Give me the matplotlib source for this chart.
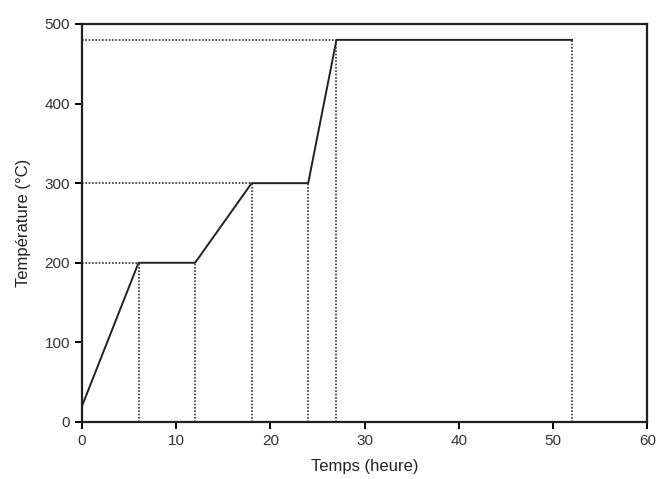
import matplotlib.pyplot as plt

# temperature programme
t = [0, 6, 12, 18, 24, 27, 52]
temp = [20, 200, 200, 300, 300, 480, 480]

# dotted guide lines
vlines_x = [6, 12, 18, 24, 27, 52]
vlines_top = [200, 200, 300, 300, 480, 480]
hlines_y = [200, 300, 480]
hlines_end = [6, 18, 27]

plt.rcParams['font.family'] = ['Liberation Sans', 'DejaVu Sans']

fig = plt.figure(figsize=(6.56, 4.79), dpi=100)
ax = fig.add_axes([0.125, 0.119, 0.862, 0.831])

ax.plot(t, temp, color='#222222', lw=1.4)
for x, top in zip(vlines_x, vlines_top):
    ax.plot([x, x], [0, top], color='#333333', lw=1.2, ls=(0, (1, 1)))
for y, end in zip(hlines_y, hlines_end):
    ax.plot([0, end], [y, y], color='#333333', lw=1.2, ls=(0, (1, 1)))

ax.set_xlim(0, 60)
ax.set_ylim(0, 500)
ax.set_xticks([0, 10, 20, 30, 40, 50, 60])
ax.set_yticks([0, 100, 200, 300, 400, 500])
ax.tick_params(direction='out', length=5, width=1.4, labelsize=11,
               labelcolor='#333333', top=False, right=False)
for s in ax.spines.values():
    s.set_linewidth(1.6)
    s.set_color('#222222')

ax.set_xlabel('Temps (heure)', fontsize=12, color='#222222', labelpad=8)
ax.set_ylabel('Température (°C)', fontsize=12, color='#222222', labelpad=10)

fig.savefig('out.png', dpi=100)
